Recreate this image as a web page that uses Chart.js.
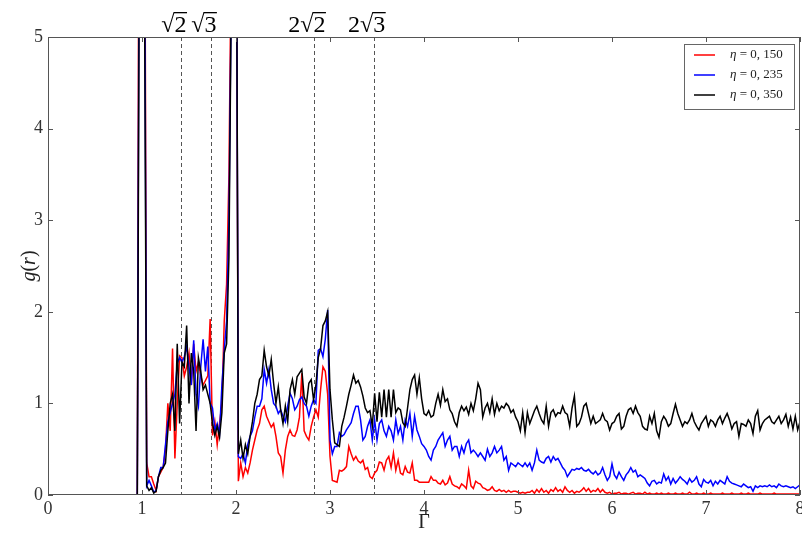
<!DOCTYPE html>
<html>
<head>
<meta charset="utf-8">
<script src="https://cdn.jsdelivr.net/npm/chart.js@4"></script>
<style>
  html, body { margin: 0; padding: 0; background: #fff; }
  #wrap { width: 802px; height: 539px; }
</style>
</head>
<body>
<div id="wrap"><canvas id="gr" width="802" height="539"></canvas></div>
<script>
// g(r) sampled on a regular grid: x = gridStart + i * gridStep (0.9 .. 8.0), plus g(0) = 0
const gridStart = 0.9;
const gridStep = 0.025;

const seriesLabels = ['0, 150', '0, 235', '0, 350'];
const seriesColors = ['#ff0000', '#0000ff', '#000000'];

// eta = 0,150
const gRed = [
  0, 0, 0, 10, 12, 8, 0.35, 0.2, 0.2, 0.12,
  0.05, 0.2, 0.25, 0.3, 0.5, 1.0, 0.7, 1.6, 0.4, 1.0,
  1.52, 1.5, 1.3, 1.4, 1.55, 1.2, 1.65, 1.35, 1.45, 1.3,
  1.2, 1.25, 1.3, 1.92, 0.65, 0.8, 0.55, 0.78, 1.0, 1.9,
  2.3, 3.5, 6, 10, 8, 0.15, 0.35, 0.2, 0.3, 0.24,
  0.35, 0.49, 0.6, 0.71, 0.78, 0.93, 0.97, 0.86, 0.8, 0.74,
  0.78, 0.64, 0.46, 0.42, 0.24, 0.49, 0.64, 0.71, 0.65, 0.64,
  0.71, 0.85, 1.33, 0.7, 0.64, 0.6, 0.75, 0.85, 0.93, 0.85,
  1.15, 1.4, 1.35, 1.1, 0.42, 0.16, 0.15, 0.14, 0.27, 0.26,
  0.28, 0.31, 0.53, 0.45, 0.38, 0.42, 0.37, 0.35, 0.38, 0.28,
  0.3, 0.2, 0.18, 0.24, 0.27, 0.36, 0.35, 0.27, 0.38, 0.42,
  0.3, 0.46, 0.27, 0.38, 0.24, 0.22, 0.31, 0.25, 0.24, 0.35,
  0.16, 0.16, 0.14, 0.14, 0.14, 0.14, 0.14, 0.2, 0.16, 0.16,
  0.13, 0.12, 0.16, 0.11, 0.13, 0.2, 0.12, 0.1, 0.09, 0.07,
  0.12, 0.1, 0.07, 0.27, 0.1, 0.07, 0.15, 0.13, 0.12, 0.08,
  0.07, 0.05, 0.06, 0.09, 0.05, 0.04, 0.06, 0.04, 0.05, 0.03,
  0.05, 0.03, 0.04, 0.04, 0.03, 0.02, 0.03, 0.02, 0.03, 0.03,
  0.05, 0.02, 0.06, 0.03, 0.07, 0.03, 0.05, 0.02, 0.06, 0.04,
  0.08, 0.04, 0.06, 0.03, 0.09, 0.05, 0.03, 0.05, 0.02, 0.04,
  0.03, 0.05, 0.08, 0.04, 0.07, 0.03, 0.05, 0.04, 0.07, 0.03,
  0.06, 0.03, 0.02, 0.03, 0.01, 0.02, 0.02, 0.03, 0.01, 0.02,
  0.02, 0.01, 0.02, 0.03, 0.01, 0.02, 0.02, 0.01, 0.03, 0.01,
  0.02, 0.01, 0.01, 0.02, 0.01, 0.02, 0.01, 0.01, 0.02, 0.01,
  0.01, 0.02, 0.01, 0.01, 0.02, 0.01, 0.01, 0.03, 0.01, 0.01,
  0.02, 0.01, 0.01, 0.02, 0.01, 0.01, 0.02, 0.01, 0.01, 0.01,
  0.01, 0.02, 0.01, 0.01, 0.01, 0.02, 0.01, 0.01, 0.01, 0.02,
  0.01, 0.01, 0.02, 0.01, 0.01, 0.01, 0.01, 0.02, 0.01, 0.01,
  0.01, 0.01, 0.01, 0.02, 0.01, 0.01, 0.01, 0.01, 0.01, 0.01,
  0.01, 0.01, 0.01, 0.01, 0.01
];

// eta = 0,235
const gBlue = [
  0, 0, 0, 8, 12, 7, 0.1, 0.16, 0.1, 0.03,
  0.05, 0.2, 0.3, 0.3, 0.55, 0.8, 0.9, 1.0, 1.1, 1.44,
  1.5, 1.45, 1.51, 1.62, 1.4, 1.2, 1.69, 1.1, 0.97, 1.4,
  1.7, 1.35, 1.62, 1.0, 0.95, 0.71, 0.78, 0.67, 1.2, 1.58,
  1.9, 3.0, 5.5, 10, 8, 0.42, 0.4, 0.45, 0.35, 0.55,
  0.64, 0.7, 0.85, 0.97, 0.97, 1.05, 1.37, 1.22, 1.37, 1.15,
  1.0, 0.97, 0.89, 0.93, 0.86, 0.8, 0.97, 1.11, 1.05, 0.93,
  0.97, 1.04, 1.07, 1.0, 0.97, 0.86, 0.97, 1.04, 1.0, 1.58,
  1.6, 1.51, 1.7, 2.02, 0.6, 0.45, 0.53, 0.53, 0.68, 0.64,
  0.66, 0.71, 0.75, 0.79, 0.89, 0.97, 0.97, 0.82, 0.6, 0.64,
  0.75, 0.82, 0.6, 0.82, 0.6, 0.78, 0.82, 0.7, 0.64, 0.75,
  0.7, 0.6, 0.82, 0.67, 0.75, 0.6, 0.82, 0.75, 0.89, 0.64,
  0.86, 0.71, 0.64, 0.56, 0.53, 0.49, 0.42, 0.38, 0.49, 0.53,
  0.6, 0.64, 0.68, 0.53, 0.6, 0.64, 0.49, 0.53, 0.53, 0.42,
  0.53, 0.46, 0.56, 0.6, 0.46, 0.49, 0.46, 0.42, 0.46, 0.42,
  0.38, 0.5, 0.42, 0.46, 0.53, 0.46, 0.49, 0.53, 0.38, 0.42,
  0.27, 0.35, 0.33, 0.31, 0.35, 0.33, 0.31, 0.35, 0.31, 0.35,
  0.27, 0.35, 0.49, 0.38, 0.36, 0.35, 0.4, 0.42, 0.36, 0.42,
  0.38, 0.4, 0.35, 0.3, 0.27, 0.2, 0.24, 0.28, 0.27, 0.29,
  0.28, 0.3, 0.27, 0.26, 0.28, 0.25, 0.23, 0.26, 0.22, 0.24,
  0.3, 0.22, 0.16, 0.2, 0.34, 0.22, 0.18, 0.25, 0.2, 0.16,
  0.22, 0.25, 0.3, 0.25, 0.27, 0.2, 0.22, 0.2, 0.18, 0.13,
  0.1, 0.15, 0.16, 0.12, 0.14, 0.13, 0.23, 0.16, 0.2, 0.12,
  0.18, 0.13, 0.16, 0.2, 0.17, 0.15, 0.12, 0.18, 0.14, 0.16,
  0.2, 0.12, 0.09, 0.17, 0.14, 0.13, 0.16, 0.1, 0.15, 0.12,
  0.16, 0.14, 0.12, 0.2, 0.15, 0.13, 0.12, 0.11, 0.1, 0.09,
  0.12, 0.1, 0.08, 0.09, 0.04, 0.1, 0.08, 0.1, 0.09, 0.1,
  0.09, 0.11, 0.09, 0.1, 0.08, 0.12, 0.1, 0.09, 0.1, 0.09,
  0.08, 0.09, 0.07, 0.09, 0.11
];

// eta = 0,350
const gBlack = [
  0, 0, 0, 7, 12, 6, 0.1, 0.05, 0.08, 0.02,
  0.04, 0.2, 0.27, 0.3, 0.35, 0.7, 1.0, 1.1, 0.7, 1.65,
  0.78, 1.45, 1.4, 1.85, 1.0, 1.55, 1.35, 0.7, 1.5, 1.35,
  1.15, 1.2, 1.1, 1.0, 0.78, 0.65, 0.75, 0.63, 0.9, 1.55,
  1.65, 2.6, 5.5, 9, 8, 0.45, 0.6, 0.4, 0.55, 0.45,
  0.64, 0.8, 1.0, 1.1, 1.26, 1.3, 1.58, 1.4, 1.3, 1.48,
  1.22, 1.0, 1.18, 0.93, 0.78, 0.97, 0.8, 1.15, 1.26, 1.1,
  1.29, 1.33, 1.37, 1.07, 1.0, 1.22, 1.26, 1.04, 1.2, 1.5,
  1.6, 1.85, 1.9, 2.0, 1.15, 0.82, 0.57, 0.55, 0.53, 0.75,
  0.85, 0.97, 1.1, 1.2, 1.31, 1.22, 1.25, 1.18, 1.08, 0.95,
  0.9, 0.92, 0.75, 1.11, 0.8, 1.12, 0.85, 1.15, 0.85, 1.15,
  0.85, 1.15, 0.9, 0.95, 0.93, 0.79, 0.75, 0.95, 1.15, 1.26,
  1.31, 1.1, 1.28, 1.05, 0.89, 0.87, 0.92, 0.85, 0.87, 1.0,
  1.1, 0.98, 1.15, 1.02, 1.05, 0.93, 0.89, 0.8, 0.75, 0.9,
  0.97, 0.92, 0.96, 0.88, 1.0, 0.92, 1.05, 1.22, 1.15, 0.85,
  0.95, 1.0, 0.9, 1.05, 0.88, 1.0, 0.92, 0.97, 0.95, 1.0,
  0.97, 0.9, 0.93, 0.85, 0.8, 0.7, 0.9, 0.68, 0.9, 0.78,
  0.85, 0.92, 0.97, 0.89, 0.82, 0.78, 0.97, 0.75, 0.9, 0.93,
  0.86, 0.9, 0.89, 0.97, 0.9, 0.88, 0.75, 0.95, 1.08, 0.75,
  0.78, 0.85, 0.97, 1.0, 0.89, 0.78, 0.86, 0.78, 0.8, 0.82,
  0.89, 0.82, 0.8, 0.71, 0.78, 0.8, 0.86, 0.89, 0.72, 0.75,
  0.86, 0.93, 0.95, 0.89, 0.97, 0.9, 0.86, 0.75, 0.72, 0.71,
  0.86, 0.78, 0.89, 0.7, 0.63, 0.8, 0.86, 0.82, 0.75, 0.78,
  0.89, 0.99, 0.89, 0.82, 0.75, 0.8, 0.78, 0.82, 0.89, 0.8,
  0.75, 0.71, 0.78, 0.82, 0.86, 0.75, 0.82, 0.8, 0.75, 0.82,
  0.86, 0.78, 0.84, 0.89, 0.82, 0.72, 0.78, 0.8, 0.64, 0.78,
  0.77, 0.75, 0.82, 0.78, 0.67, 0.86, 0.92, 0.71, 0.78, 0.82,
  0.84, 0.86, 0.8, 0.78, 0.82, 0.86, 0.78, 0.82, 0.88, 0.75,
  0.85, 0.72, 0.86, 0.71, 0.8
];

// reference distances marked with dashed lines: coef * sqrt(rad)
const refX = [1.4142, 1.7321, 2.8284, 3.4641];
const refCoef = ['', '', '2', '2'];
const refRad = ['2', '3', '2', '3'];

const xTicks = [0, 1, 2, 3, 4, 5, 6, 7, 8];
const yTicks = [0, 1, 2, 3, 4, 5];

const serif = '"Liberation Serif", "DejaVu Serif", serif';
const frameColor = '#555';

function toPoints(ys) {
  const pts = [{ x: 0, y: 0 }];
  ys.forEach((y, i) => pts.push({ x: +(gridStart + i * gridStep).toFixed(3), y: y }));
  return pts;
}

const decorations = {
  id: 'decorations',
  beforeDatasetsDraw(chart) {
    const { ctx, chartArea: a, scales: { x } } = chart;
    ctx.save();
    ctx.strokeStyle = '#555';
    ctx.lineWidth = 1;
    ctx.setLineDash([4, 3]);
    refX.forEach(v => {
      const px = Math.round(x.getPixelForValue(v)) + 0.5;
      ctx.beginPath();
      ctx.moveTo(px, a.top);
      ctx.lineTo(px, a.bottom);
      ctx.stroke();
    });
    ctx.restore();
  },
  afterDraw(chart) {
    const { ctx, chartArea: a, scales: { x, y } } = chart;
    ctx.save();

    // frame and inward ticks on all sides
    ctx.strokeStyle = frameColor;
    ctx.lineWidth = 1;
    ctx.strokeRect(a.left + 0.5, a.top + 0.5, a.right - a.left - 1, a.bottom - a.top - 1);
    ctx.beginPath();
    xTicks.forEach(v => {
      const px = Math.round(x.getPixelForValue(v)) + 0.5;
      ctx.moveTo(px, a.bottom); ctx.lineTo(px, a.bottom - 5);
      ctx.moveTo(px, a.top); ctx.lineTo(px, a.top + 5);
    });
    yTicks.forEach(v => {
      const py = Math.round(y.getPixelForValue(v)) + 0.5;
      ctx.moveTo(a.left, py); ctx.lineTo(a.left + 5, py);
      ctx.moveTo(a.right, py); ctx.lineTo(a.right - 5, py);
    });
    ctx.stroke();

    // labels above the dashed lines
    ctx.fillStyle = '#000';
    ctx.font = '24px ' + serif;
    ctx.textBaseline = 'alphabetic';
    ctx.textAlign = 'left';
    refX.forEach((v, i) => {
      const coef = refCoef[i], rad = refRad[i];
      const wc = ctx.measureText(coef).width;
      const m = ctx.measureText('\u221A');
      const wd = ctx.measureText(rad).width;
      let cx = x.getPixelForValue(v) - 7 - (wc + m.width + wd) / 2;
      const base = 32;
      if (coef) ctx.fillText(coef, cx, base);
      cx += wc;
      ctx.fillText('\u221A', cx, base);
      const topY = base - m.actualBoundingBoxAscent;
      cx += m.width;
      ctx.fillText(rad, cx, base);
      ctx.fillRect(cx - 1, topY, wd + 1.5, 1.3);
    });

    // axis titles
    ctx.fillStyle = '#222';
    ctx.textAlign = 'center';
    ctx.textBaseline = 'middle';
    ctx.font = '20px ' + serif;
    ctx.fillText('\u0393', (a.left + a.right) / 2, 523);

    ctx.save();
    ctx.translate(30, (a.top + a.bottom) / 2);
    ctx.rotate(-Math.PI / 2);
    const parts = [['g', true], ['(', false], ['r', true], [')', false]];
    let tw = 0;
    parts.forEach(p => {
      ctx.font = (p[1] ? 'italic ' : '') + '20px ' + serif;
      tw += ctx.measureText(p[0]).width;
    });
    let tx = -tw / 2;
    ctx.textAlign = 'left';
    parts.forEach(p => {
      ctx.font = (p[1] ? 'italic ' : '') + '20px ' + serif;
      ctx.fillText(p[0], tx, 0);
      tx += ctx.measureText(p[0]).width;
    });
    ctx.restore();

    // legend box
    const bw = 110, bh = 65;
    const bx = a.right - 6 - bw, by = a.top + 7;
    ctx.fillStyle = '#fff';
    ctx.fillRect(bx, by, bw, bh);
    ctx.strokeStyle = '#666';
    ctx.lineWidth = 1;
    ctx.strokeRect(Math.round(bx) + 0.5, Math.round(by) + 0.5, bw, bh);
    ctx.textAlign = 'left';
    ctx.textBaseline = 'middle';
    chart.data.datasets.forEach((ds, i) => {
      const ry = by + 11 + i * 20;
      ctx.strokeStyle = ds.borderColor;
      ctx.lineWidth = 1.5;
      ctx.beginPath();
      ctx.moveTo(bx + 10, ry);
      ctx.lineTo(bx + 31, ry);
      ctx.stroke();
      ctx.fillStyle = '#222';
      let lx = bx + 46;
      ctx.font = 'italic 13px ' + serif;
      ctx.fillText('\u03B7', lx, ry);
      lx += ctx.measureText('\u03B7').width;
      ctx.font = '13px ' + serif;
      ctx.fillText(' = ' + seriesLabels[i], lx, ry);
    });

    ctx.restore();
  }
};

const datasets = [gRed, gBlue, gBlack].map((ys, i) => ({
  label: '\u03B7 = ' + seriesLabels[i],
  data: toPoints(ys),
  borderColor: seriesColors[i],
  borderWidth: 1.5,
  pointRadius: 0,
  tension: 0,
  fill: false,
  order: 3 - i
}));

new Chart(document.getElementById('gr'), {
  type: 'line',
  data: { datasets: datasets },
  options: {
    responsive: false,
    animation: false,
    devicePixelRatio: 1,
    layout: { padding: { top: 37, right: 2, left: 0, bottom: 0 } },
    plugins: {
      legend: { display: false },
      tooltip: { enabled: false }
    },
    scales: {
      x: {
        type: 'linear',
        min: 0,
        max: 8,
        grid: { display: false, drawTicks: false },
        border: { display: false },
        afterBuildTicks: s => { s.ticks = xTicks.map(v => ({ value: v })); },
        afterFit: s => { s.height = 44; s.paddingLeft = 0; s.paddingRight = 0; },
        ticks: {
          padding: 3,
          maxRotation: 0,
          autoSkip: false,
          color: '#333',
          font: { family: serif, size: 18 },
          callback: v => String(v)
        }
      },
      y: {
        type: 'linear',
        min: 0,
        max: 5,
        grid: { display: false, drawTicks: false },
        border: { display: false },
        afterBuildTicks: s => { s.ticks = yTicks.map(v => ({ value: v })); },
        afterFit: s => { s.width = 48; s.paddingTop = 0; s.paddingBottom = 0; },
        ticks: {
          padding: 5,
          autoSkip: false,
          color: '#333',
          font: { family: serif, size: 18 },
          callback: v => String(v)
        }
      }
    }
  },
  plugins: [decorations]
});
</script>
</body>
</html>
